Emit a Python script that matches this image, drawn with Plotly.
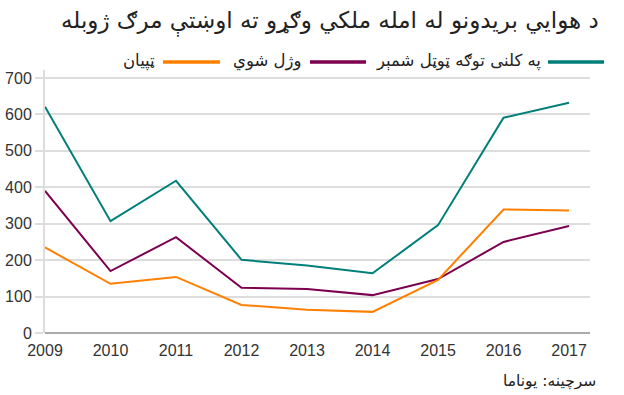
import plotly.graph_objects as go

years = [2009, 2010, 2011, 2012, 2013, 2014, 2015, 2016, 2017]
total = [621, 307, 418, 201, 185, 164, 296, 591, 632]
killed = [390, 170, 263, 124, 121, 104, 148, 250, 294]
injured = [235, 135, 154, 77, 64, 58, 146, 339, 336]

names = ["په کلنی توګه ټوټل شمېر", "وژل شوي", "ټپیان"]
colors = ["#007f7a", "#7d0050", "#ff7f00"]
series = [total, killed, injured]

title_text = "د هوايي بریدونو له امله ملکي وګړو ته اوښتې مرګ ژوبله"
source_text = "سرچینه: یوناما"

fig = go.Figure()
for name, col, vals in zip(names, colors, series):
    fig.add_trace(go.Scatter(x=years, y=vals, mode="lines", name=name,
                             line=dict(color=col, width=2), showlegend=False))

W, H = 624, 395
L, R, T, B = 45, 34, 70, 62
pw, ph = W - L - R, H - T - B

def px2x(px):
    return (px - L) / pw

def py2y(py):
    return (H - B - py) / ph

arfont = "DejaVu Sans"
shapes = []
annotations = []
# manual RTL legend
leg = [(548, 604, 543), (310, 366, 303), (163, 220, 157)]
for (x0, x1, tx), name, col in zip(leg, names, colors):
    shapes.append(dict(type="line", xref="paper", yref="paper",
                       x0=px2x(x0), x1=px2x(x1), y0=py2y(62), y1=py2y(62),
                       line=dict(color=col, width=3.5)))
    annotations.append(dict(text=name, xref="paper", yref="paper",
                            x=px2x(tx), y=py2y(61), xanchor="right", yanchor="middle",
                            showarrow=False, font=dict(family=arfont, size=16.5, color="#222")))
annotations.append(dict(text=title_text, xref="paper", yref="paper",
                        x=px2x(601), y=py2y(22), xanchor="right", yanchor="middle",
                        showarrow=False, font=dict(family=arfont, size=23, color="#222")))
annotations.append(dict(text=source_text, xref="paper", yref="paper",
                        x=px2x(598), y=py2y(381), xanchor="right", yanchor="middle",
                        showarrow=False, font=dict(family=arfont, size=15.5, color="#222")))

fig.update_layout(
    width=W, height=H,
    margin=dict(l=L, r=R, t=T, b=B),
    paper_bgcolor="white", plot_bgcolor="white",
    shapes=shapes, annotations=annotations,
    xaxis=dict(range=[2009, 2017.32], tickmode="array", tickvals=years, automargin=False,
               ticktext=[str(y) for y in years], showgrid=False, zeroline=False,
               showline=False, ticks="", ticklabelstandoff=6,
               tickfont=dict(family="Liberation Sans", size=16, color="#333")),
    yaxis=dict(range=[0, 722], tickmode="array", tickvals=[0, 100, 200, 300, 400, 500, 600, 700],
               automargin=False,
               showgrid=True, gridcolor="#dddddd", gridwidth=2, zeroline=True,
               zerolinecolor="#aaaaaa", zerolinewidth=2,
               showline=True, linecolor="#dddddd", linewidth=2,
               ticks="outside", ticklen=8, tickcolor="#dddddd", tickwidth=2,
               tickfont=dict(family="Liberation Sans", size=16, color="#333")),
)
fig.write_html("out.html", config={"displayModeBar": False},
               post_script="document.body.style.margin='0';")
